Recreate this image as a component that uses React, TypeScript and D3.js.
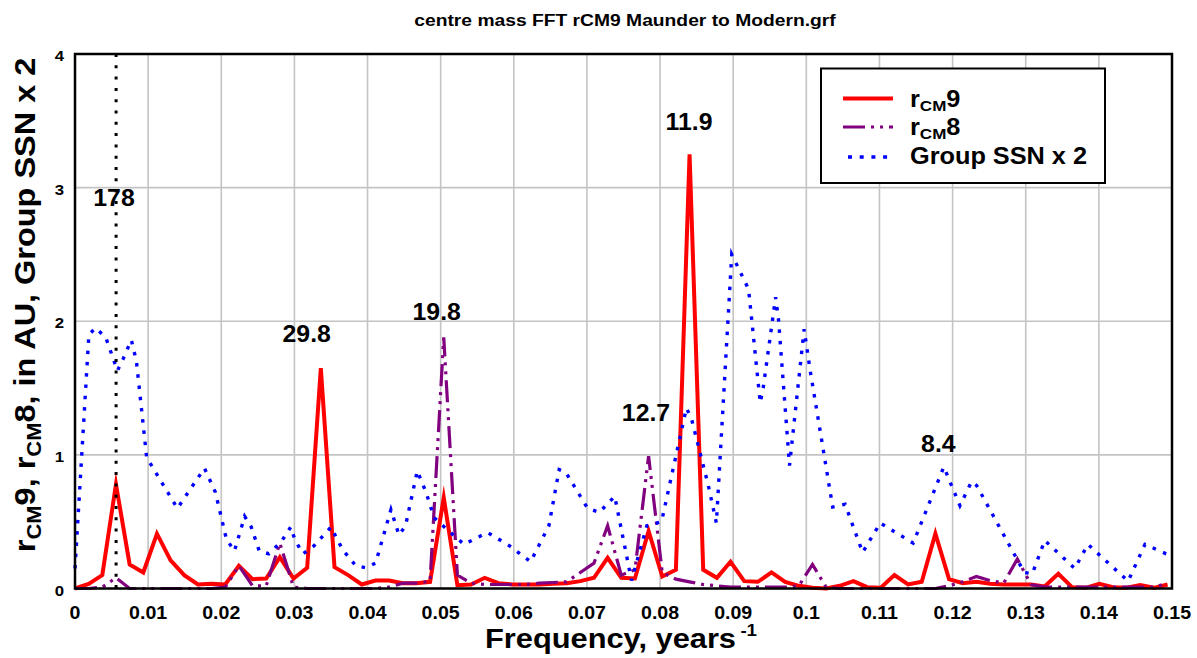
import React from 'react';
import * as d3 from 'd3';

// ---------- data ----------
const FREQ_STEP = 1 / 535.5; // FFT frequency resolution (years^-1)

const rcm9 = [
  0, 0.035, 0.10, 0.78, 0.18, 0.12, 0.41, 0.21, 0.10, 0.03,
  0.035, 0.03, 0.17, 0.07, 0.075, 0.235, 0.075, 0.155, 1.65, 0.16,
  0.10, 0.03, 0.06, 0.06, 0.04, 0.04, 0.05, 0.68, 0.025, 0.03,
  0.08, 0.04, 0.03, 0.03, 0.03, 0.035, 0.04, 0.055, 0.08, 0.23,
  0.08, 0.075, 0.43, 0.09, 0.14, 3.25, 0.14, 0.08, 0.20, 0.055,
  0.05, 0.12, 0.05, 0.02, 0.005, 0.0, 0.02, 0.055, 0.01, 0.005,
  0.10, 0.03, 0.05, 0.41, 0.07, 0.04, 0.05, 0.035, 0.03, 0.03,
  0.03, 0.015, 0.11, 0.01, 0.005, 0.035, 0.01, 0.005, 0.025, 0.005,
  0.03,
];

const rcm8 = [
  0, 0, 0.01, 0.08, 0, 0, 0, 0, 0, 0,
  0, 0.01, 0.17, 0.02, 0.02, 0.34, 0.01, 0, 0, 0,
  0, 0, 0, 0.01, 0.04, 0.04, 0.055, 1.88, 0.10, 0.04,
  0.03, 0.03, 0.03, 0.03, 0.04, 0.045, 0.05, 0.12, 0.19, 0.47,
  0.10, 0.14, 0.99, 0.12, 0.07, 0.05, 0.03, 0.02, 0.01, 0.01,
  0.01, 0.01, 0.01, 0.02, 0.18, 0.01, 0, 0, 0, 0,
  0, 0, 0, 0, 0.02, 0.05, 0.09, 0.06, 0.04, 0.22,
  0.03, 0.01, 0.01, 0.01, 0.01, 0.01, 0.01, 0.01, 0.01, 0.01,
  0.04,
];

const ssnFreq = [
  0.0, 0.0019, 0.0028, 0.0042, 0.0058, 0.0066, 0.0077, 0.0084, 0.0098, 0.0140,
  0.0177, 0.0192, 0.0207, 0.0218, 0.0232, 0.0241, 0.0252, 0.0265, 0.0282, 0.0295,
  0.0301, 0.0312, 0.0327, 0.0350, 0.0366, 0.0384, 0.0398, 0.0411, 0.0432, 0.0443,
  0.0452, 0.0468, 0.0480, 0.0491, 0.0507, 0.0532, 0.0564, 0.0594, 0.0623, 0.0648,
  0.0662, 0.0671, 0.0701, 0.0717, 0.0738, 0.0761, 0.0782, 0.0802, 0.0836, 0.0843,
  0.0866, 0.0877, 0.0898, 0.0914, 0.0921, 0.0937, 0.0941, 0.0958, 0.0962, 0.0977,
  0.0997, 0.1005, 0.1036, 0.1053, 0.1077, 0.1101, 0.1146, 0.1188, 0.1210, 0.1226,
  0.1233, 0.1298, 0.1309, 0.1326, 0.1367, 0.1385, 0.1440, 0.1463, 0.1492, 0.1500,
];
const ssnVal = [
  0.15, 1.90, 1.95, 1.88, 1.63, 1.72, 1.86, 1.70, 0.98, 0.60,
  0.90, 0.72, 0.37, 0.28, 0.54, 0.46, 0.28, 0.26, 0.35, 0.46,
  0.36, 0.26, 0.32, 0.46, 0.29, 0.17, 0.155, 0.19, 0.59, 0.40,
  0.47, 0.88, 0.72, 0.53, 0.45, 0.33, 0.42, 0.32, 0.20, 0.47,
  0.89, 0.87, 0.60, 0.57, 0.69, 0.06, 0.47, 0.50, 1.35, 1.27,
  0.77, 0.49, 2.50, 2.32, 2.24, 1.39, 1.50, 2.18, 2.01, 0.92,
  1.94, 1.64, 0.61, 0.63, 0.27, 0.49, 0.34, 0.91, 0.62, 0.80,
  0.77, 0.12, 0.11, 0.36, 0.15, 0.33, 0.055, 0.33, 0.26, 0.25,
];

const xTicks = [0, 0.01, 0.02, 0.03, 0.04, 0.05, 0.06, 0.07, 0.08, 0.09, 0.1, 0.11, 0.12, 0.13, 0.14, 0.15];
const xTickLabels = ['0', '0.01', '0.02', '0.03', '0.04', '0.05', '0.06', '0.07', '0.08', '0.09', '0.1', '0.11', '0.12', '0.13', '0.14', '0.15'];
const yTicks = [0, 1, 2, 3, 4];
const yTickLabels = ['0', '1', '2', '3', '4'];

const MARKER_FREQ = 1 / 178;
const peakLabels = ['178', '29.8', '19.8', '12.7', '11.9', '8.4'];
const peakLabelFreq = [0.00533, 0.03168, 0.04946, 0.07808, 0.08396, 0.11805];
const peakLabelVal = [2.862, 1.845, 2.013, 1.253, 3.431, 1.02];

const TITLE = 'centre mass FFT rCM9 Maunder to Modern.grf';

// ---------- layout ----------
const W = 1197;
const H = 658;
const FONT = "Arial, 'Liberation Sans', Helvetica, sans-serif";

const x = d3.scaleLinear().domain([0, 0.15]).range([75, 1172]);
const y = d3.scaleLinear().domain([0, 4]).range([588.5, 54]);

const RED = '#FF0000';
const PURPLE = '#800080';
const BLUE = '#0000FF';

const T = ({ x: tx, y: ty, size, sx = 1.1, anchor = 'middle', rotate = 0, children }: any) => (
  <text
    transform={`translate(${tx},${ty})${rotate ? ` rotate(${rotate})` : ''} scale(${sx},1)`}
    textAnchor={anchor}
    fontSize={size}
    fontWeight="bold"
    fontFamily={FONT}
    fill="#000"
  >
    {children}
  </text>
);

export default function App() {
  const idx = rcm9.map((_, i) => i);
  const lineIdx = (vals: number[]) =>
    d3.line<number>().x((i) => x(i * FREQ_STEP)).y((i) => y(vals[i]))(idx) || '';
  const blueLine =
    d3.line<number>().x((i) => x(ssnFreq[i])).y((i) => y(ssnVal[i]))(ssnFreq.map((_, i) => i)) || '';

  const [x0, x1] = x.range();
  const [yb, yt] = y.range();

  return (
    <svg
      width={W}
      height={H}
      viewBox={`0 0 ${W} ${H}`}
      style={{ position: 'absolute', left: 0, top: 0, background: '#fff' }}
    >
      <rect x={0} y={0} width={W} height={H} fill="#fff" />
      {/* title */}
      <T x={625} y={26} size={17.2} sx={1.12}>{TITLE}</T>

      {/* grid */}
      <g stroke="#C4C4C4" strokeWidth={1.6}>
        {xTicks.map((t) => (
          <line key={'gx' + t} x1={x(t)} x2={x(t)} y1={yt} y2={yb} />
        ))}
        {yTicks.map((t) => (
          <line key={'gy' + t} x1={x0} x2={x1} y1={y(t)} y2={y(t)} />
        ))}
      </g>

      {/* series */}
      <path d={lineIdx(rcm9)} fill="none" stroke={RED} strokeWidth={4} strokeLinejoin="miter" strokeMiterlimit={10} />
      <path d={lineIdx(rcm8)} fill="none" stroke={PURPLE} strokeWidth={3.2} strokeDasharray="22,6,3,6,3,6" />
      <path d={blueLine} fill="none" stroke={BLUE} strokeWidth={3.4} strokeDasharray="3.5,7.8" />

      {/* 178-year marker */}
      <line x1={x(MARKER_FREQ)} x2={x(MARKER_FREQ)} y1={yt} y2={yb} stroke="#000" strokeWidth={3} strokeDasharray="3,8.3" />

      {/* frame */}
      <rect x={x0} y={yt} width={x1 - x0} height={yb - yt} fill="none" stroke="#000" strokeWidth={2.5} />

      {/* peak labels */}
      {peakLabels.map((s, i) => (
        <T key={'pl' + i} x={x(peakLabelFreq[i])} y={y(peakLabelVal[i])} size={23} sx={1.08}>{s}</T>
      ))}

      {/* x ticks */}
      {xTicks.map((t, i) => (
        <T key={'xt' + i} x={x(t)} y={619} size={17.5} sx={1.12}>{xTickLabels[i]}</T>
      ))}
      {/* y ticks */}
      {yTicks.map((t, i) => (
        <T key={'yt' + i} x={64} y={y(t) + 7} size={14} sx={1.2} anchor="end">{yTickLabels[i]}</T>
      ))}

      {/* x label */}
      <text
        transform="translate(485,648) scale(1.1,1)"
        fontSize={28}
        fontWeight="bold"
        fontFamily={FONT}
      >
        Frequency, years
        <tspan fontSize={17} dx={4} dy={-12}>-1</tspan>
      </text>

      {/* y label */}
      <text
        transform="translate(35,305) rotate(-90) scale(1.1,1)"
        textAnchor="middle"
        fontSize={29.5}
        fontWeight="bold"
        fontFamily={FONT}
      >
        r<tspan fontSize={20} dy={6}>CM</tspan>
        <tspan dy={-6}>9, r</tspan>
        <tspan fontSize={20} dy={6}>CM</tspan>
        <tspan dy={-6}>8, in AU, Group SSN x 2</tspan>
      </text>

      {/* legend */}
      <g>
        <rect x={821} y={68.5} width={284} height={114.5} fill="#fff" stroke="#000" strokeWidth={2} />
        <line x1={843} x2={893} y1={98.5} y2={98.5} stroke={RED} strokeWidth={4} />
        <line x1={843} x2={893} y1={127} y2={127} stroke={PURPLE} strokeWidth={3.2} strokeDasharray="22,6,3,6,3,6" />
        <line x1={848} x2={890} y1={157} y2={157} stroke={BLUE} strokeWidth={3.4} strokeDasharray="4,7.7" />
        <text transform="translate(910,106.5) scale(1.1,1)" fontSize={23} fontWeight="bold" fontFamily={FONT}>
          r<tspan fontSize={15.5} dy={4}>CM</tspan><tspan dy={-4}>9</tspan>
        </text>
        <text transform="translate(910,135) scale(1.1,1)" fontSize={23} fontWeight="bold" fontFamily={FONT}>
          r<tspan fontSize={15.5} dy={4}>CM</tspan><tspan dy={-4}>8</tspan>
        </text>
        <text transform="translate(910,163.5) scale(1.1,1)" fontSize={23} fontWeight="bold" fontFamily={FONT}>
          Group SSN x 2
        </text>
      </g>
    </svg>
  );
}
